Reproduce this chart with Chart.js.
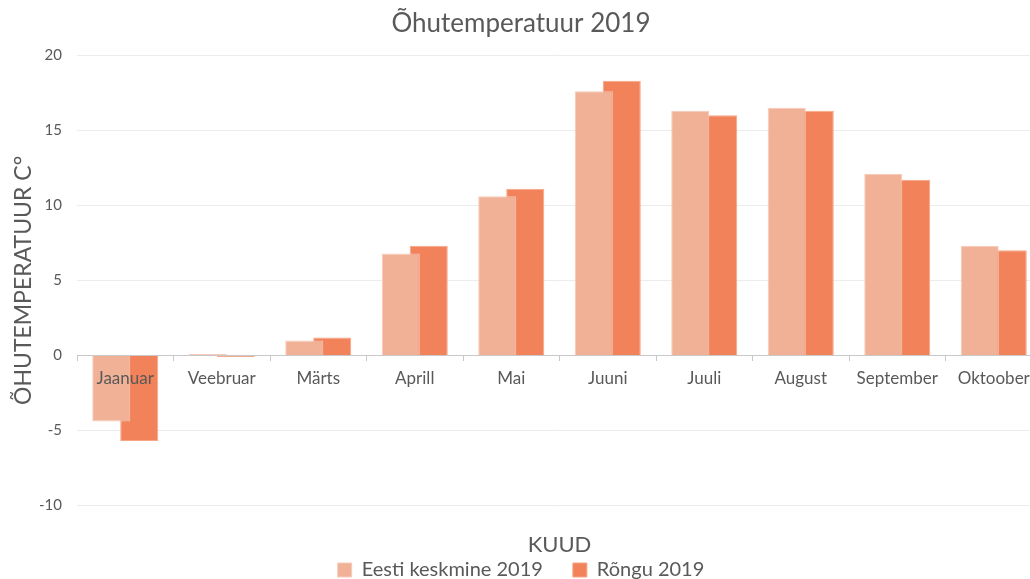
<!DOCTYPE html>
<html>
<head>
<meta charset="utf-8">
<script src="https://cdn.jsdelivr.net/npm/chart.js@4"></script>
<style>
  html, body { margin: 0; padding: 0; overflow: hidden; background: #fff; }
  #wrap { position: absolute; left: 0; top: 0; }
</style>
</head>
<body>
<div id="wrap"><canvas id="temp-chart" width="1050" height="590"></canvas></div>
<script>
// months and monthly mean temperatures
const months = ['Jaanuar', 'Veebruar', 'Märts', 'Aprill', 'Mai', 'Juuni', 'Juuli', 'August', 'September', 'Oktoober']
const eestiKeskmine = [-4.4, 0.1, 1.0, 6.8, 10.6, 17.6, 16.3, 16.5, 12.1, 7.3]
const rongu = [-5.7, -0.1, 1.2, 7.3, 11.1, 18.3, 16.0, 16.3, 11.7, 7.0]
const seriesNames = ['Eesti keskmine 2019', 'Rõngu 2019']

const textColor = '#595959'
const fontFamily = 'Lato, "Open Sans", sans-serif'

new Chart('temp-chart', {
    type: 'bar',
    data: {
        labels: months,
        datasets: [{
            label: seriesNames[0],
            data: eestiKeskmine,
            backgroundColor: '#f1b197',
            borderColor: '#f6cbb9',
            borderWidth: 1,
            categoryPercentage: 0.58,
            barPercentage: 1.36
        }, {
            label: seriesNames[1],
            data: rongu,
            backgroundColor: '#f1825a',
            borderColor: '#f6a585',
            borderWidth: 1,
            categoryPercentage: 0.58,
            barPercentage: 1.36
        }]
    },
    options: {
        responsive: false,
        animation: false,
        layout: { padding: { left: 0, right: 8, top: 0, bottom: 0 } },
        plugins: {
            title: {
                display: true,
                text: 'Õhutemperatuur 2019',
                color: textColor,
                font: { family: fontFamily, size: 26, weight: 'normal' },
                padding: { top: 8, bottom: 16 }
            },
            legend: {
                position: 'bottom',
                labels: {
                    color: textColor,
                    font: { family: fontFamily, size: 20 },
                    boxWidth: 14,
                    boxHeight: 14,
                    padding: 30
                }
            },
            tooltip: { enabled: false }
        },
        scales: {
            // bottom axis only carries the title
            x: {
                position: 'bottom',
                ticks: { display: false },
                grid: { display: false },
                border: { display: false },
                title: {
                    display: true,
                    text: 'KUUD',
                    color: textColor,
                    font: { family: fontFamily, size: 22 },
                    padding: { top: 18, bottom: -28 }
                }
            },
            // month labels sit on the zero line, drawn above the bars
            xZero: {
                type: 'category',
                labels: months,
                position: { y: 0 },
                grid: { drawOnChartArea: false, color: '#c8c8c8', tickLength: 5, offset: true },
                border: { color: '#c8c8c8' },
                ticks: { z: 1, color: textColor, font: { family: fontFamily, size: 17 }, padding: 8, autoSkip: false, maxRotation: 0 }
            },
            y: {
                min: -10,
                max: 20,
                afterFit: (scale) => { scale.width = 77 },
                ticks: { stepSize: 5, color: textColor, font: { family: fontFamily, size: 15 }, padding: 15 },
                grid: { color: '#ececec', drawTicks: false },
                border: { display: false },
                title: {
                    display: true,
                    text: 'ÕHUTEMPERATUUR C°',
                    color: textColor,
                    font: { family: fontFamily, size: 23 },
                    padding: { top: 10, bottom: 0 }
                }
            }
        }
    }
});
</script>
</body>
</html>
